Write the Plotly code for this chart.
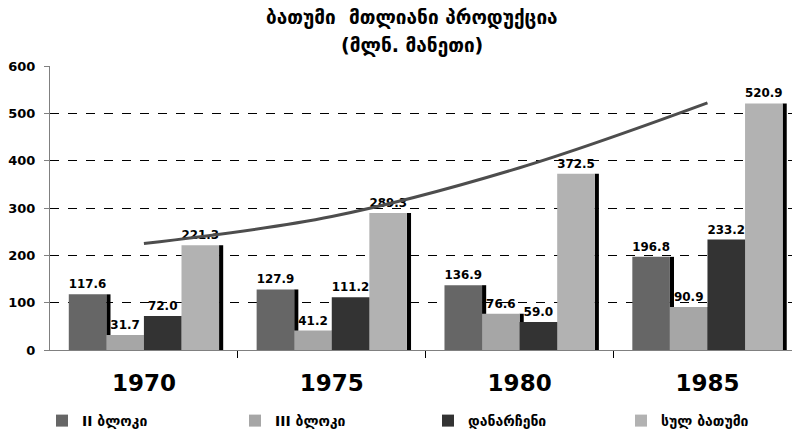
import plotly.graph_objects as go

# data
years = ["1970", "1975", "1980", "1985"]
series_names = ["II ბლოკი", "III ბლოკი", "დანარჩენი", "სულ ბათუმი"]
block2 = [117.6, 127.9, 136.9, 196.8]
block3 = [31.7, 41.2, 76.6, 90.9]
others = [72.0, 111.2, 59.0, 233.2]
total = [221.3, 289.3, 372.5, 520.9]
trend = [225, 282, 385, 522]

colors = ["#666666", "#a6a6a6", "#333333", "#b2b2b2"]
offsets = [-0.3, -0.1, 0.1, 0.3]
bar_w = 0.2
shadow_w = 0.022
legend_ids = ["legend", "legend2", "legend3", "legend4"]
legend_x = [42, 235, 428, 621]  # px, left edge of each legend block

idx = list(range(len(years)))
all_series = [block2, block3, others, total]
num_font = "DejaVu Sans"
geo_font = "DejaVu Sans"

fig = go.Figure()

# black shadows to the right of every bar, drawn first
for s, off in zip(all_series, offsets):
    fig.add_trace(go.Bar(
        x=[i + off + bar_w / 2 + shadow_w / 2 for i in idx], y=s,
        width=shadow_w, marker=dict(color="black", line=dict(width=0)),
        showlegend=False, hoverinfo="skip",
    ))

for s, off, name, col, lg in zip(all_series, offsets, series_names, colors, legend_ids):
    fig.add_trace(go.Bar(
        x=[i + off for i in idx], y=s, width=bar_w, name=name, legend=lg,
        marker=dict(color=col, line=dict(width=0)),
        text=[f"{v:.1f}" for v in s], textposition="outside",
        textfont=dict(family=num_font, size=12, color="black", weight="bold"),
        cliponaxis=False,
    ))

fig.add_trace(go.Scatter(
    x=idx, y=trend, mode="lines", line=dict(color="#4d4d4d", width=3, shape="spline"),
    showlegend=False, hoverinfo="skip",
))

legends = {}
for lg, px in zip(legend_ids, legend_x):
    legends[lg] = dict(
        x=(px - 50) / 742, xanchor="left", orientation="h",
        y=(350 - 421) / 284, yanchor="middle", itemwidth=30,
        bgcolor="rgba(0,0,0,0)",
        font=dict(family=geo_font, size=14, color="black", weight="bold"),
    )

fig.update_layout(
    width=794, height=430,
    barmode="overlay",
    plot_bgcolor="white", paper_bgcolor="white",
    margin=dict(l=50, r=2, t=66, b=80, autoexpand=False),
    showlegend=True,
    **legends,
)

title_lines = ["ბათუმი  მთლიანი პროდუქცია", "(მლნ. მანეთი)"]
for txt, py in zip(title_lines, [17, 45]):
    fig.add_annotation(
        text=txt, xref="paper", yref="paper", x=(412 - 50) / 742, xanchor="center",
        y=1 + (66 - py) / 284, yanchor="middle", showarrow=False,
        font=dict(family=geo_font, size=19, color="black", weight="bold"),
    )

fig.update_xaxes(
    range=[-0.5, 3.45], tickvals=idx, ticktext=years, ticks="",
    tickfont=dict(family=num_font, size=23, color="black", weight="bold"),
    ticklabelstandoff=12, automargin=False,
    showline=True, linecolor="#808080", linewidth=1, showgrid=False, zeroline=False,
    minor=dict(tickvals=[0.5, 1.5, 2.5], ticks="outside", ticklen=7,
               tickcolor="black", tickwidth=1, showgrid=False),
)
fig.update_yaxes(
    range=[0, 600], dtick=100, ticks="outside", ticklen=5, tickcolor="#808080",
    tickfont=dict(family=num_font, size=13, color="black", weight="bold"),
    ticklabelstandoff=6,
    showline=True, linecolor="#808080", linewidth=1, automargin=False,
    showgrid=True, gridcolor="black", griddash="dash", gridwidth=1, zeroline=False,
)

# the browser's default 8px body margin would shift the whole chart
fig.write_html("out.html", config={"displayModeBar": False},
               post_script="document.body.style.margin='0';")
